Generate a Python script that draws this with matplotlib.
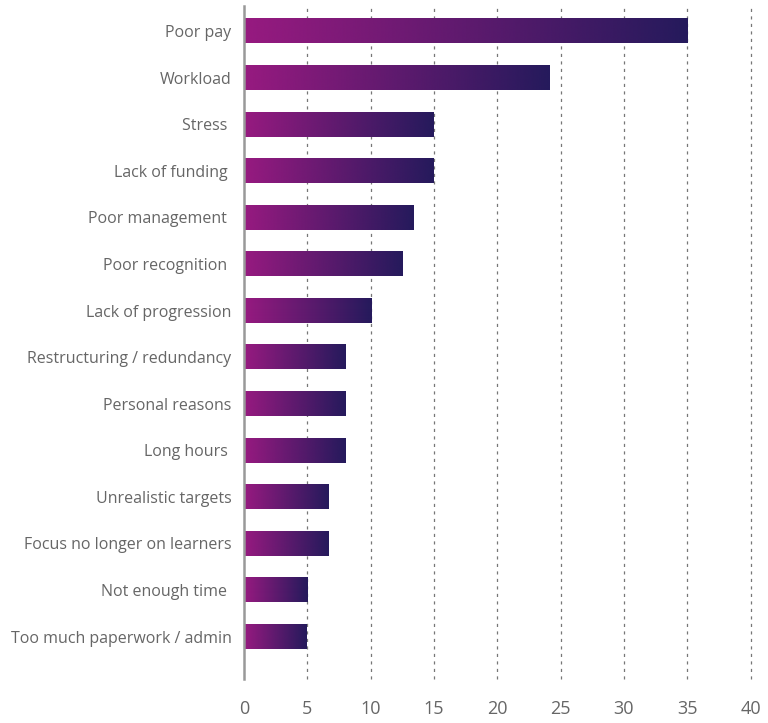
import numpy as np
import matplotlib
matplotlib.use("Agg")
import matplotlib.pyplot as plt
from matplotlib.colors import LinearSegmentedColormap

categories = ["Poor pay", "Workload", "Stress ", "Lack of funding ", "Poor management ",
              "Poor recognition ", "Lack of progression", "Restructuring / redundancy",
              "Personal reasons", "Long hours ", "Unrealistic targets",
              "Focus no longer on learners", "Not enough time ", "Too much paperwork / admin"]
values = [35.0, 24.1, 15.0, 15.0, 13.4, 12.5, 10.1, 8.0, 8.0, 8.0, 6.7, 6.7, 5.0, 4.9]
xticks = [0, 5, 10, 15, 20, 25, 30, 35, 40]

plt.rcParams['font.family'] = ['Open Sans', 'DejaVu Sans']
grey = '#666666'

fig = plt.figure(figsize=(7.68, 7.23), dpi=100)
ax = fig.add_axes([244/768, 1-679/723, 506.5/768, (679-6)/723])

cmap = LinearSegmentedColormap.from_list('g', ['#971A80', '#251A5C'])
grad = np.linspace(0, 1, 256).reshape(1, -1)
h = 0.525
for i, v in enumerate(values):
    ax.imshow(grad, cmap=cmap, aspect='auto', extent=(0, v, i + h/2, i - h/2),
              interpolation='bicubic', zorder=3)

ax.set_xlim(0, 40)
ax.set_ylim(len(values) - 1 + 0.91, -0.54)
ax.set_xticks(xticks)
ax.set_xticklabels([str(t) for t in xticks], fontsize=13, color=grey)
ax.set_yticks(range(len(categories)))
ax.set_yticklabels(categories, fontsize=11.5, color=grey)
ax.tick_params(axis='y', length=0, pad=9)
ax.tick_params(axis='x', length=0, pad=15)
for t in xticks[1:]:
    ax.axvline(t, color='#777777', lw=0.9, ls=(0, (2.5, 3.5)), zorder=1, clip_on=False)
for s in ['top', 'right', 'bottom']:
    ax.spines[s].set_visible(False)
ax.spines['left'].set_color('#999999')
ax.spines['left'].set_linewidth(1.8)
ax.spines['left'].set_zorder(4)

fig.savefig('out.png', dpi=100)
